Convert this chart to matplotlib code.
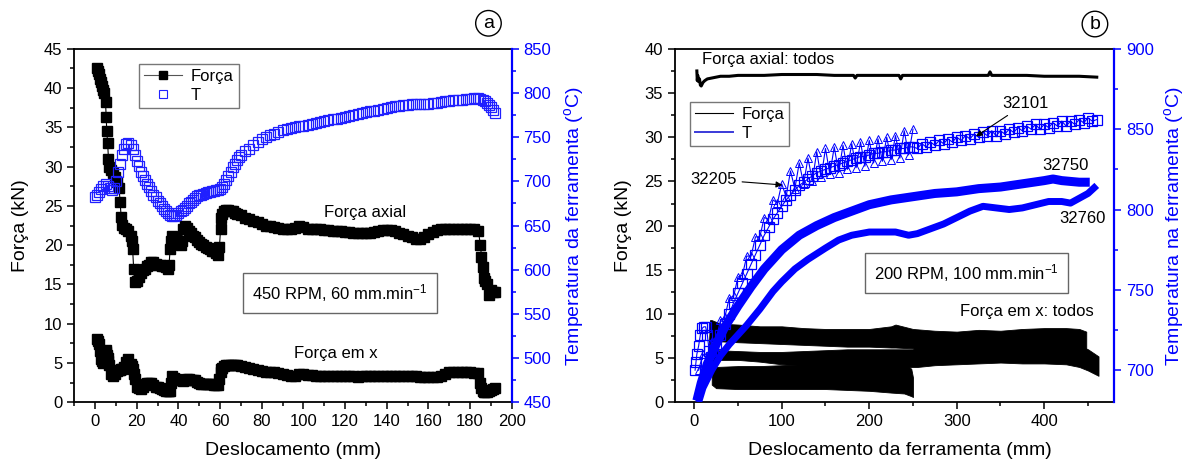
import matplotlib
matplotlib.use('Agg')
import matplotlib.pyplot as plt
from matplotlib.ticker import MultipleLocator
from matplotlib.lines import Line2D

plt.rcParams['font.family'] = ['Liberation Sans', 'DejaVu Sans']
plt.rcParams['mathtext.fontset'] = 'custom'
plt.rcParams['mathtext.rm'] = 'Liberation Sans'
plt.rcParams['mathtext.it'] = 'Liberation Sans'

# ---------------- Panel (a) data ----------------
disp_a = [1, 1.5, 2, 2.5, 3, 3.5, 4, 4.5, 5,
          5.3, 5.6, 6, 6.4, 6.8,
          7.5, 8.5, 9.5, 10.5, 11.5,
          12, 12.5, 13,
          14, 15, 16, 17,
          17.5, 18, 18.5, 19,
          20, 21, 22, 23, 24, 25, 26, 27, 28, 29, 30, 31, 32, 33, 34, 35,
          35.5, 36, 36.5, 37,
          38, 39, 40, 41,
          41.5, 42,
          43, 44, 45, 46, 47, 48, 49, 50, 51, 52, 53, 54, 55, 56, 57, 58, 59,
          59.7, 60.2, 60.6, 61,
          62, 63, 64, 65, 66, 67, 68,
          70, 72, 74, 76, 78, 80, 82, 84, 86, 88,
          90, 92, 94, 96, 98, 100, 102, 104, 106, 108,
          110, 112, 114, 116, 118, 120, 122, 124, 126, 128,
          130, 132, 134, 136, 138, 140, 142, 144, 146, 148,
          150, 152, 154, 156, 158, 160, 162, 164, 166, 168,
          170, 172, 174, 176, 178, 180, 182, 184,
          185, 185.5, 186, 186.5, 187,
          188, 189, 190, 191, 192]

forca_axial_a = [42.6, 42.2, 41.8, 41.2, 40.8, 40.3, 39.8, 39.3, 38.2,
                 36.3, 34.5, 33.0, 31.0, 30.0,
                 29.6, 29.2, 28.7, 28.0, 27.3,
                 25.5, 23.6, 22.6,
                 22.2, 22.0, 21.8, 21.2,
                 20.5, 19.5, 17.0, 15.3,
                 15.5, 16.0, 16.5, 16.8, 17.0, 17.3, 17.5, 17.8, 17.8, 17.6, 17.5, 17.5, 17.4, 17.3, 17.2, 17.0,
                 17.5, 19.5, 20.5, 21.2,
                 21.0, 20.8, 20.5, 20.0,
                 20.5, 22.0,
                 22.4, 22.2, 21.8, 21.5, 21.2, 21.0, 20.7, 20.4, 20.2, 20.0, 19.8, 19.6, 19.5, 19.3, 19.2, 19.0, 18.8,
                 19.8, 22.0, 23.5, 24.0,
                 24.3, 24.5, 24.5, 24.4, 24.3, 24.1, 24.0,
                 23.8, 23.5, 23.3, 23.1, 22.9, 22.7, 22.5, 22.4, 22.3, 22.2,
                 22.1, 22.0, 22.0, 22.2, 22.5, 22.3, 22.1, 22.1, 22.0, 22.0,
                 21.9, 21.9, 21.8, 21.8, 21.8, 21.7, 21.7, 21.6, 21.6, 21.5,
                 21.5, 21.6, 21.7, 21.8, 21.9, 21.9, 21.9, 21.8, 21.6, 21.4,
                 21.2, 21.0, 20.8, 20.8, 21.0, 21.4, 21.7, 21.9, 22.0, 22.1,
                 22.1, 22.1, 22.1, 22.1, 22.1, 22.1, 22.0, 21.8,
                 20.0, 18.5, 17.2, 15.8, 15.5,
                 15.0, 13.6, 14.3, 14.0, 14.1]

forca_x_a = [8.0, 7.8, 7.4, 6.5, 5.5, 5.2, 5.0, 5.6, 6.6,
             6.4, 6.0, 5.6, 5.2, 4.8,
             3.6, 3.3, 3.6, 4.0, 4.1,
             4.1, 4.2, 4.2,
             4.5, 5.1, 5.5, 4.9,
             4.6, 4.3, 3.6, 3.0,
             2.0, 1.8, 1.7, 2.0, 2.3, 2.4, 2.5, 2.4, 2.2, 2.0, 1.9, 1.8, 1.7, 1.6, 1.5, 1.4,
             1.4, 1.5, 2.5, 3.3,
             3.1, 3.0, 2.9, 2.8,
             2.8, 2.7,
             2.8, 3.0, 3.0, 2.9, 2.9, 2.8, 2.6, 2.4, 2.3, 2.3, 2.3, 2.3, 2.3, 2.3, 2.2, 2.2, 2.2,
             3.0, 3.8, 4.3, 4.4,
             4.6, 4.7, 4.7, 4.7, 4.8, 4.8, 4.7,
             4.6, 4.5, 4.4, 4.3, 4.1, 4.0, 3.9, 3.8, 3.8, 3.7,
             3.6, 3.5, 3.4, 3.3, 3.6, 3.6, 3.5, 3.5, 3.4, 3.4,
             3.4, 3.4, 3.3, 3.3, 3.3, 3.3, 3.3, 3.3, 3.2, 3.3,
             3.3, 3.3, 3.4, 3.4, 3.4, 3.4, 3.4, 3.4, 3.4, 3.4,
             3.4, 3.3, 3.3, 3.2, 3.2, 3.2, 3.2, 3.2, 3.4, 3.6,
             3.8, 3.8, 3.9, 3.9, 3.8, 3.8, 3.7, 3.7,
             2.5, 1.8, 1.4, 1.3, 1.3,
             1.3, 1.4, 1.6, 1.7, 1.8]

disp_t_a = [0, 1, 2, 3, 4, 5, 6, 7, 8, 9,
            10, 11, 12, 13, 14, 15, 16, 17, 18, 19,
            20, 21, 22, 23, 24, 25, 26, 27, 28, 29,
            30, 31, 32, 33, 34, 35, 36, 37, 38, 39,
            40, 41, 42, 43, 44, 45, 46, 47, 48, 49,
            50, 51, 52, 53, 54, 55, 56, 57, 58, 59,
            60, 61, 62, 63, 64, 65, 66, 67, 68, 69,
            70,
            72, 74, 76, 78, 80, 82, 84, 86, 88, 90,
            92, 94, 96, 98, 100, 102, 104, 106, 108, 110,
            112, 114, 116, 118, 120, 122, 124, 126, 128, 130,
            132, 134, 136, 138, 140, 142, 144, 146, 148, 150,
            152, 154, 156, 158, 160, 162, 164, 166, 168, 170,
            172, 174, 176, 178, 180, 182, 184,
            185, 186, 187, 188, 189, 190, 191, 192]

temp_a = [682, 685, 688, 691, 695, 697, 695, 692, 690, 692,
          700, 710, 720, 730, 737, 742, 743, 741, 736, 730,
          723, 717, 711, 706, 701, 697, 693, 689, 685, 682,
          678, 675, 672, 669, 666, 664, 662, 661, 661, 662,
          664, 666, 668, 670, 672, 675, 677, 679, 681, 683,
          684, 685, 686, 687, 688, 688, 689, 689, 690, 690,
          691, 693, 697, 701, 706, 711, 716, 720, 724, 727,
          730,
          734, 737, 741, 745, 748, 750, 752, 754, 756, 758,
          759, 760, 761, 762, 763, 764, 765, 766, 767, 768,
          769, 770, 771, 772, 773, 774, 775, 776, 777, 778,
          779, 780, 781, 782, 783, 784, 785, 785, 786, 786,
          787, 787, 787, 788, 788, 789, 789, 790, 791, 791,
          792, 792, 792, 793, 793, 794, 794,
          793, 792, 791, 789, 786, 784, 781, 777]

# ---------------- Panel (b) data ----------------
axial_b_x = [3, 3.5, 4, 5, 6, 7, 8, 9, 10, 12, 15, 20, 25, 30, 40, 50, 60, 80, 100, 120,
             140, 160, 182, 184, 186, 200, 220, 234, 236, 238, 260, 280, 300, 320, 336, 338,
             340, 360, 380, 400, 420, 440, 460]
axial_b_y = [37.5, 36.4, 37.0, 36.3, 36.6, 35.9, 35.8, 36.0, 36.2, 36.4, 36.6, 36.7, 36.8,
             36.9, 36.9, 37.0, 37.0, 37.0, 37.1, 37.1, 37.1, 37.0, 37.0, 36.7, 37.0, 37.0,
             37.0, 37.0, 36.6, 37.0, 37.0, 37.0, 37.0, 37.0, 37.0, 37.4, 37.0, 37.0, 37.0,
             36.9, 36.9, 36.9, 36.8]

fx1_x = [17, 18, 20, 30, 50, 75, 100, 125, 150, 175, 200, 225, 230, 250, 275, 300, 325,
         350, 375, 400, 425, 440, 448]
fx1_hi = [7.0, 9.3, 9.3, 8.9, 8.8, 8.6, 8.6, 8.4, 8.3, 8.3, 8.3, 8.6, 8.8, 8.3, 8.1, 8.0,
          8.2, 8.1, 8.3, 8.4, 8.4, 8.3, 8.0]
fx1_lo = [5.2, 6.8, 6.9, 6.9, 6.8, 6.7, 6.6, 6.5, 6.4, 6.3, 6.3, 6.2, 6.2, 6.1, 6.0, 6.0,
          5.9, 5.9, 6.0, 6.0, 6.0, 6.0, 5.9]

fx2_x = [20, 25, 50, 75, 100, 125, 150, 175, 200, 225, 250, 255, 275, 300, 325, 350, 375,
         400, 425, 440, 450, 462]
fx2_hi = [6.4, 5.9, 5.8, 5.7, 5.7, 5.8, 5.9, 6.0, 6.0, 6.0, 6.0, 6.5, 7.0, 7.0, 6.8, 6.9,
          6.9, 6.8, 6.6, 6.4, 6.0, 5.2]
fx2_lo = [4.6, 4.8, 4.8, 4.6, 4.3, 4.2, 4.2, 4.2, 4.1, 4.0, 4.0, 4.0, 4.2, 4.3, 4.4, 4.5,
          4.4, 4.4, 4.3, 4.0, 3.6, 3.0]

fx3_x = [20, 25, 50, 75, 100, 125, 150, 175, 200, 225, 240, 248, 250]
fx3_hi = [4.4, 4.0, 4.1, 4.1, 4.2, 4.3, 4.3, 4.3, 4.3, 4.3, 4.4, 3.8, 2.8]
fx3_lo = [2.0, 1.6, 1.5, 1.5, 1.5, 1.5, 1.5, 1.4, 1.3, 1.1, 1.0, 0.7, 0.6]

t32205_x = [5, 10, 15, 20, 25, 30, 35, 40, 45, 50,
            55, 60, 65, 70, 75, 80, 85, 90, 95, 100,
            105, 110, 115, 120, 125, 130, 135, 140, 145, 150,
            155, 160, 165, 170, 175, 180, 185, 190, 195, 200,
            205, 210, 215, 220, 225, 230, 235, 240, 245, 250]
t32205_y = [700, 710, 706, 718, 719, 731, 733, 745, 746, 758,
            759, 771, 771, 783, 783, 795, 794, 806, 804, 816,
            808, 824, 813, 829, 816, 832, 818, 836, 820, 838,
            822, 839, 823, 840, 825, 841, 826, 842, 827, 843,
            829, 844, 830, 845, 831, 846, 832, 849, 834, 850]

t32101_x = [1, 2, 3, 5, 7, 9, 11, 13, 15, 17, 19, 22,
            25, 30, 35, 40, 45, 50, 55, 60, 65, 70, 75, 80, 85, 90, 95, 100,
            105, 110, 115, 120, 125, 130, 135, 140, 145, 150,
            155, 160, 165, 170, 175, 180, 185, 190, 195, 200,
            205, 210, 215, 220, 225, 230, 235, 240, 245, 250,
            255, 260, 265, 270, 275, 280, 285, 290, 295, 300,
            305, 310, 315, 320, 325, 330, 335, 340, 345, 350,
            355, 360, 365, 370, 375, 380, 385, 390, 395, 400,
            405, 410, 415, 420, 425, 430, 435, 440, 445, 450,
            455, 460]
t32101_y = [700, 705, 710, 715, 722, 726, 727, 727, 722, 712, 708, 712,
            716, 722, 729, 735, 742, 748, 754, 760, 766, 772, 778, 784, 789, 794, 798, 802,
            806, 809, 812, 815, 817, 819, 821, 823, 824, 825,
            826, 827, 828, 829, 830, 831, 832, 833, 833, 834,
            835, 835, 836, 836, 837, 837, 838, 838, 839, 839,
            838, 841, 839, 842, 840, 843, 841, 844, 842, 845,
            843, 846, 844, 847, 845, 848, 846, 849, 846, 849,
            847, 850, 848, 851, 849, 852, 850, 853, 850, 853,
            851, 854, 852, 855, 852, 855, 853, 856, 854, 857,
            855, 856]

t32750_x = [3, 8, 15, 25, 35, 50, 65, 80, 100, 120, 140, 160, 180, 200, 225, 250, 275, 300,
            325, 350, 375, 400, 410, 420, 440, 452]
t32750_y = [681, 692, 704, 716, 727, 740, 752, 763, 775, 784, 790, 795, 799, 803, 806, 808,
            810, 811, 813, 814, 816, 818, 819, 818, 817, 817]

t32760_x = [5, 10, 20, 30, 40, 50, 60, 75, 90, 100, 115, 130, 150, 165, 180, 200, 215, 230,
            245, 255, 270, 285, 300, 315, 330, 345, 360, 375, 390, 405, 420, 430, 440, 450, 460]
t32760_y = [680, 689, 700, 709, 716, 722, 728, 738, 749, 755, 763, 769, 776, 781, 784, 786,
            786, 786, 784, 785, 788, 791, 795, 799, 802, 801, 800, 801, 803, 805, 805, 804,
            807, 810, 815]

BLUE = '#0000ff'
TICK_FS = 12
LABEL_FS = 14
TEXT_FS = 12

fig = plt.figure(figsize=(11.85, 4.62), dpi=100)
ax1 = fig.add_axes([0.0627, 0.1292, 0.3691, 0.7654])
ax2 = fig.add_axes([0.5696, 0.1292, 0.3707, 0.7650])


def style_axes(ax, axt):
    for s in ['left', 'bottom', 'top']:
        ax.spines[s].set_linewidth(1.3)
    ax.spines['right'].set_visible(False)
    for s in ['left', 'bottom', 'top']:
        axt.spines[s].set_visible(False)
    axt.spines['right'].set_color(BLUE)
    axt.spines['right'].set_linewidth(1.6)
    ax.tick_params(which='both', direction='out', width=1.1, labelsize=TICK_FS, top=False)
    ax.tick_params(which='major', length=5)
    ax.tick_params(which='minor', length=3)
    axt.tick_params(which='both', direction='out', width=1.1, colors=BLUE,
                    labelsize=TICK_FS)
    axt.tick_params(which='major', length=5)
    axt.tick_params(which='minor', length=3)


# ---------------- Panel (a) ----------------
ax1t = ax1.twinx()
ax1.plot(disp_a, forca_x_a, '-', color='black', lw=0.8, marker='s', ms=7,
         mfc='black', mec='black')
ax1.plot(disp_a, forca_axial_a, '-', color='black', lw=0.8, marker='s', ms=7,
         mfc='black', mec='black')
ax1t.plot(disp_t_a, temp_a, linestyle='none', marker='s', ms=7, mfc='none',
          mec='#2020ff', mew=0.9)
ax1.set_xlim(-10, 200)
ax1.set_ylim(0, 45)
ax1t.set_ylim(450, 850)
ax1.xaxis.set_major_locator(MultipleLocator(20))
ax1.xaxis.set_minor_locator(MultipleLocator(10))
ax1.yaxis.set_major_locator(MultipleLocator(5))
ax1.yaxis.set_minor_locator(MultipleLocator(2.5))
ax1t.yaxis.set_major_locator(MultipleLocator(50))
ax1t.yaxis.set_minor_locator(MultipleLocator(25))
style_axes(ax1, ax1t)

ax1.set_xlabel('Deslocamento (mm)', fontsize=LABEL_FS)
ax1.set_ylabel('Força (kN)', fontsize=LABEL_FS, va='center')
ax1t.set_ylabel('Temperatura da ferramenta ($^{\\mathregular{o}}$C)', fontsize=LABEL_FS,
                color=BLUE, rotation=90, va='center')
ax1.xaxis.set_label_coords(0.5, -0.112)
ax1.yaxis.set_label_coords(-0.122, 0.5)
ax1t.yaxis.set_label_coords(1.1417, 0.5)

ax1.text(110, 24.2, 'Força axial', fontsize=TEXT_FS, ha='left', va='center')
ax1.text(95.4, 6.15, 'Força em x', fontsize=TEXT_FS, ha='left', va='center')
ax1.text(117.4, 13.9, '450 RPM, 60 mm.min$^{\\mathregular{-1}}$', fontsize=TEXT_FS,
         ha='center', va='center',
         bbox=dict(boxstyle='square,pad=0.55', fc='white', ec='#666666', lw=1))

h_forca_a = Line2D([], [], color='#555555', lw=0.8, marker='s', ms=6, mfc='black', mec='black')
h_t_a = Line2D([], [], linestyle='none', marker='s', ms=6, mfc='none', mec='#2020ff', mew=0.8)
leg1 = ax1t.legend([h_forca_a, h_t_a], ['Força', 'T'], loc='upper left',
                   bbox_to_anchor=(0.148, 0.957), fontsize=TEXT_FS, frameon=True,
                   fancybox=False, edgecolor='#555555', handlelength=2.3,
                   borderpad=0.3, labelspacing=0.25, handletextpad=0.5, borderaxespad=0)
leg1.get_frame().set_linewidth(1.0)

# ---------------- Panel (b) ----------------
ax2t = ax2.twinx()
ax2.plot(axial_b_x, axial_b_y, '-', color='black', lw=2.2)
ax2.fill_between(fx1_x, fx1_lo, fx1_hi, color='black', lw=0.6)
ax2.fill_between(fx2_x, fx2_lo, fx2_hi, color='black', lw=0.6)
ax2.fill_between(fx3_x, fx3_lo, fx3_hi, color='black', lw=0.6)

ax2t.plot(t32760_x, t32760_y, '-', color=BLUE, lw=5.0, solid_capstyle='butt')
ax2t.plot(t32750_x, t32750_y, '-', color=BLUE, lw=6.5, solid_capstyle='butt')
ax2t.plot(t32101_x, t32101_y, '-', color=BLUE, lw=0.8, marker='s', ms=6.5, mfc='none',
          mec=BLUE, mew=0.9)
ax2t.plot(t32205_x, t32205_y, '-', color=BLUE, lw=0.8, marker='^', ms=6, mfc='none',
          mec=BLUE, mew=0.7)

ax2.set_xlim(-22, 480)
ax2.set_ylim(0, 40)
ax2t.set_ylim(680, 900)
ax2.xaxis.set_major_locator(MultipleLocator(100))
ax2.xaxis.set_minor_locator(MultipleLocator(50))
ax2.yaxis.set_major_locator(MultipleLocator(5))
ax2.yaxis.set_minor_locator(MultipleLocator(2.5))
ax2t.yaxis.set_major_locator(MultipleLocator(50))
ax2t.yaxis.set_minor_locator(MultipleLocator(25))
style_axes(ax2, ax2t)

ax2.set_xlabel('Deslocamento da ferramenta (mm)', fontsize=LABEL_FS)
ax2.set_ylabel('Força (kN)', fontsize=LABEL_FS, va='center')
ax2t.set_ylabel('Temperatura na ferramenta ($^{\\mathregular{o}}$C)', fontsize=LABEL_FS,
                color=BLUE, rotation=90, va='center')
ax2.xaxis.set_label_coords(0.511, -0.112)
ax2.yaxis.set_label_coords(-0.1175, 0.5)
ax2t.yaxis.set_label_coords(1.135, 0.5)

ax2.text(8.8, 38.8, 'Força axial: todos', fontsize=TEXT_FS, ha='left', va='center')
ax2.text(456.8, 10.26, 'Força em x: todos', fontsize=TEXT_FS, ha='right', va='center')
ax2.text(311, 14.6, '200 RPM, 100 mm.min$^{\\mathregular{-1}}$', fontsize=TEXT_FS,
         ha='center', va='center',
         bbox=dict(boxstyle='square,pad=0.55', fc='white', ec='#666666', lw=1))

ax2t.annotate('32101', xy=(322, 30.1), xycoords=ax2.transData,
              xytext=(378.5, 33.8), textcoords=ax2.transData, fontsize=TEXT_FS,
              ha='center', va='center',
              arrowprops=dict(arrowstyle='-|>', color='black', lw=0.8,
                              mutation_scale=9, shrinkA=2, shrinkB=0))
ax2t.annotate('32205', xy=(100.6, 24.6), xycoords=ax2.transData,
              xytext=(21.8, 25.2), textcoords=ax2.transData, fontsize=TEXT_FS,
              ha='center', va='center',
              arrowprops=dict(arrowstyle='-|>', color='black', lw=0.8,
                              mutation_scale=9, shrinkA=2, shrinkB=0))
ax2t.text(424.8, 26.8, '32750', transform=ax2.transData, fontsize=TEXT_FS,
          ha='center', va='center')
ax2t.text(444, 20.8, '32760', transform=ax2.transData, fontsize=TEXT_FS,
          ha='center', va='center')

h_forca_b = Line2D([], [], color='black', lw=0.8)
h_t_b = Line2D([], [], color='#3a3ad8', lw=1.4)
leg2 = ax2t.legend([h_forca_b, h_t_b], ['Força', 'T'], loc='upper left',
                   bbox_to_anchor=(0.0337, 0.851), fontsize=TEXT_FS, frameon=True,
                   fancybox=False, edgecolor='#555555', handlelength=2.3,
                   borderpad=0.3, labelspacing=0.25, handletextpad=0.5, borderaxespad=0)
leg2.get_frame().set_linewidth(1.0)

# circled panel letters
fig.text(0.4122, 0.9496, 'a', fontsize=14, ha='center', va='center',
         bbox=dict(boxstyle='circle,pad=0.22', fc='white', ec='black', lw=1))
fig.text(0.924, 0.948, 'b', fontsize=14, ha='center', va='center',
         bbox=dict(boxstyle='circle,pad=0.22', fc='white', ec='black', lw=1))

fig.savefig('out.png', dpi=100)
